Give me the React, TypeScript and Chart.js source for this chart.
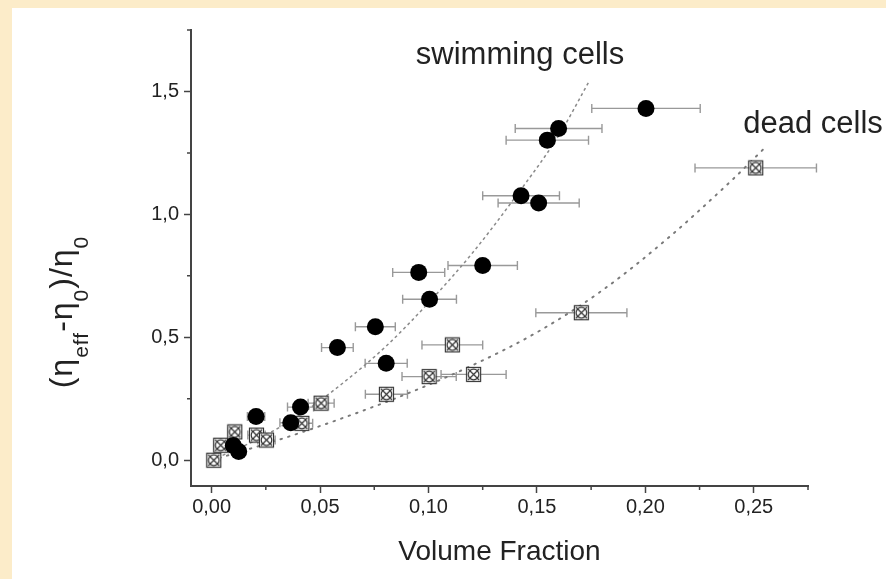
import React, { useEffect, useRef } from 'react';
import { Chart, registerables } from 'chart.js';

Chart.register(...registerables);

// ---- data ----
const swimmingX = [0.010, 0.0125, 0.0205, 0.0365, 0.041, 0.058, 0.0755, 0.0805, 0.0955, 0.1005, 0.125, 0.1427, 0.1508, 0.1548, 0.160, 0.2003];
const swimmingY = [0.06, 0.035, 0.178, 0.152, 0.216, 0.458, 0.543, 0.394, 0.764, 0.655, 0.792, 1.076, 1.046, 1.302, 1.349, 1.431];
const swimmingXErr = [0.003, 0.003, 0.004, 0.005, 0.006, 0.0073, 0.0092, 0.0097, 0.012, 0.0124, 0.016, 0.0177, 0.0187, 0.019, 0.020, 0.025];

const deadX = [0.001, 0.0042, 0.0107, 0.0207, 0.0253, 0.0416, 0.0505, 0.0806, 0.1003, 0.111, 0.1208, 0.1705, 0.2509];
const deadY = [0.0, 0.061, 0.115, 0.102, 0.082, 0.150, 0.232, 0.268, 0.340, 0.469, 0.349, 0.600, 1.189];
const deadXErr = [0.002, 0.003, 0.003, 0.004, 0.004, 0.005, 0.006, 0.0097, 0.0125, 0.014, 0.015, 0.021, 0.028];

const swimmingFitX = [0, 0.02, 0.04, 0.06, 0.08, 0.10, 0.12, 0.14, 0.16, 0.174];
const swimmingFitY = [0, 0.08, 0.18, 0.31, 0.46, 0.64, 0.84, 1.07, 1.32, 1.54];

const deadFitX = [0, 0.03, 0.06, 0.09, 0.12, 0.15, 0.18, 0.21, 0.24, 0.255];
const deadFitY = [0, 0.08, 0.17, 0.27, 0.385, 0.52, 0.69, 0.90, 1.14, 1.27];

const xTickValues = [0, 0.05, 0.10, 0.15, 0.20, 0.25];
const xTickLabels = ['0,00', '0,05', '0,10', '0,15', '0,20', '0,25'];
const xMinorValues = [0.025, 0.075, 0.125, 0.175, 0.225, 0.275];
const yTickValues = [0, 0.5, 1.0, 1.5];
const yTickLabels = ['0,0', '0,5', '1,0', '1,5'];
const yMinorValues = [0.25, 0.75, 1.25, 1.75];

const xTitle = 'Volume Fraction';
const swimmingLabel = 'swimming cells';
const deadLabel = 'dead cells';

const FONT = '"Liberation Sans", Arial, Helvetica, sans-serif';

function makeCrossedSquare(): HTMLCanvasElement {
  const s = 17;
  const c = document.createElement('canvas');
  c.width = s;
  c.height = s;
  const g = c.getContext('2d')!;
  g.fillStyle = '#ffffff';
  g.fillRect(1, 1, s - 2, s - 2);
  g.strokeStyle = '#333333';
  g.lineWidth = 1.2;
  g.strokeRect(1.5, 1.5, s - 3, s - 3);
  g.beginPath();
  g.arc(s / 2, s / 2, s / 2 - 3.2, 0, Math.PI * 2);
  g.stroke();
  g.beginPath();
  g.moveTo(3, 3);
  g.lineTo(s - 3, s - 3);
  g.moveTo(s - 3, 3);
  g.lineTo(3, s - 3);
  g.stroke();
  return c;
}

const errorBarPlugin = {
  id: 'errorBars',
  beforeDatasetsDraw(chart: any) {
    const { ctx, scales } = chart;
    const xs = scales.x;
    const ys = scales.y;
    ctx.save();
    ctx.strokeStyle = '#999999';
    ctx.lineWidth = 1.4;
    const draw = (vx: number[], vy: number[], ve: number[]) => {
      vx.forEach((v, i) => {
        const x0 = xs.getPixelForValue(v - ve[i]);
        const x1 = xs.getPixelForValue(v + ve[i]);
        const py = ys.getPixelForValue(vy[i]);
        ctx.beginPath();
        ctx.moveTo(x0, py);
        ctx.lineTo(x1, py);
        ctx.moveTo(x0, py - 4.5);
        ctx.lineTo(x0, py + 4.5);
        ctx.moveTo(x1, py - 4.5);
        ctx.lineTo(x1, py + 4.5);
        ctx.stroke();
      });
    };
    draw(swimmingX, swimmingY, swimmingXErr);
    draw(deadX, deadY, deadXErr);
    ctx.restore();
  },
};

const decorPlugin = {
  id: 'decor',
  afterDraw(chart: any) {
    const { ctx, scales, chartArea } = chart;
    const xs = scales.x;
    const ys = scales.y;
    ctx.save();
    // minor ticks
    ctx.strokeStyle = '#444';
    ctx.lineWidth = 1.5;
    ctx.beginPath();
    xMinorValues.forEach((v) => {
      const px = xs.getPixelForValue(v);
      ctx.moveTo(px, chartArea.bottom);
      ctx.lineTo(px, chartArea.bottom + 4);
    });
    yMinorValues.forEach((v) => {
      const py = ys.getPixelForValue(v);
      ctx.moveTo(chartArea.left, py);
      ctx.lineTo(chartArea.left - 4, py);
    });
    ctx.stroke();

    ctx.fillStyle = '#222';
    ctx.textAlign = 'center';
    ctx.textBaseline = 'middle';
    // x title
    ctx.font = `28px ${FONT}`;
    ctx.fillText(xTitle, (chartArea.left + chartArea.right) / 2, 544);

    // annotations
    ctx.font = `31px ${FONT}`;
    ctx.fillText(swimmingLabel, 508, 47);
    ctx.fillText(deadLabel, 801, 116);

    // y title with subscripts
    const big = 32;
    const small = 21;
    const parts: [string, boolean][] = [
      ['(\u03B7', false],
      ['eff', true],
      ['-\u03B7', false],
      ['0', true],
      [')/\u03B7', false],
      ['0', true],
    ];
    (ctx as any).letterSpacing = '1px';
    let total = 0;
    const widths = parts.map(([t, sub]) => {
      ctx.font = `${sub ? small : big}px ${FONT}`;
      const w = ctx.measureText(t).width;
      total += w;
      return w;
    });
    ctx.translate(49, 304);
    ctx.rotate(-Math.PI / 2);
    ctx.textAlign = 'left';
    ctx.textBaseline = 'alphabetic';
    let cx = -total / 2;
    parts.forEach(([t, sub], i) => {
      ctx.font = `${sub ? small : big}px ${FONT}`;
      ctx.fillText(t, cx, sub ? 27 : 11);
      cx += widths[i];
    });
    (ctx as any).letterSpacing = '0px';
    ctx.restore();
  },
};

export default function App() {
  const ref = useRef<HTMLCanvasElement | null>(null);

  useEffect(() => {
    document.body.style.margin = '0';
    const canvas = ref.current;
    if (!canvas) return;
    const marker = makeCrossedSquare();

    const chart = new Chart(canvas, {
      type: 'scatter',
      data: {
        datasets: [
          {
            label: 'swimming',
            data: swimmingX.map((x, i) => ({ x, y: swimmingY[i] })),
            pointStyle: 'circle',
            pointRadius: 8.5,
            backgroundColor: '#000',
            borderColor: '#000',
            borderWidth: 0,
            order: 1,
          },
          {
            label: 'dead',
            data: deadX.map((x, i) => ({ x, y: deadY[i] })),
            pointStyle: marker as any,
            pointRadius: 8.5,
            order: 2,
          },
          {
            type: 'line',
            label: 'swimming fit',
            data: swimmingFitX.map((x, i) => ({ x, y: swimmingFitY[i] })),
            borderColor: '#8a8a8a',
            borderWidth: 1.5,
            borderDash: [3, 3],
            pointRadius: 0,
            tension: 0.4,
            cubicInterpolationMode: 'monotone',
            fill: false,
            order: 5,
          } as any,
          {
            type: 'line',
            label: 'dead fit',
            data: deadFitX.map((x, i) => ({ x, y: deadFitY[i] })),
            borderColor: '#7a7a7a',
            borderWidth: 2,
            borderDash: [1.5, 6.5],
            borderCapStyle: 'round',
            pointRadius: 0,
            tension: 0.4,
            cubicInterpolationMode: 'monotone',
            fill: false,
            order: 6,
          } as any,
        ],
      },
      options: {
        animation: false,
        responsive: false,
        events: [],
        layout: { padding: { top: 22, right: 78, left: 0, bottom: 0 } },
        plugins: { legend: { display: false }, tooltip: { enabled: false }, title: { display: false } },
        scales: {
          x: {
            type: 'linear',
            min: -0.0095,
            max: 0.275,
            afterFit: (s: any) => { s.height = 93; },
            afterBuildTicks: (s: any) => { s.ticks = xTickValues.map((value) => ({ value })); },
            ticks: {
              callback: (v: any) => xTickLabels[xTickValues.findIndex((t) => Math.abs(t - v) < 1e-6)] ?? '',
              font: { family: FONT, size: 20 },
              color: '#222',
              padding: 2,
              maxRotation: 0,
              autoSkip: false,
            },
            grid: { display: true, drawOnChartArea: false, drawTicks: true, tickLength: 7, tickColor: '#444', tickWidth: 1.5 },
            border: { display: true, color: '#444', width: 2 },
          },
          y: {
            type: 'linear',
            min: -0.105,
            max: 1.75,
            afterFit: (s: any) => { s.width = 179; },
            afterBuildTicks: (s: any) => { s.ticks = yTickValues.map((value) => ({ value })); },
            ticks: {
              callback: (v: any) => yTickLabels[yTickValues.findIndex((t) => Math.abs(t - v) < 1e-6)] ?? '',
              font: { family: FONT, size: 20 },
              color: '#222',
              padding: 5,
              autoSkip: false,
            },
            grid: { display: true, drawOnChartArea: false, drawTicks: true, tickLength: 7, tickColor: '#444', tickWidth: 1.5 },
            border: { display: true, color: '#444', width: 2 },
          },
        },
      },
      plugins: [errorBarPlugin, decorPlugin],
    } as any);

    return () => chart.destroy();
  }, []);

  return (
    <div style={{ position: 'relative', width: 886, height: 579, background: '#fcecc9', overflow: 'hidden' }}>
      <div style={{ position: 'absolute', left: 12, top: 8, width: 874, height: 571, background: '#ffffff' }}>
        <canvas ref={ref} width={874} height={571} style={{ display: 'block', width: 874, height: 571 }} />
      </div>
    </div>
  );
}
